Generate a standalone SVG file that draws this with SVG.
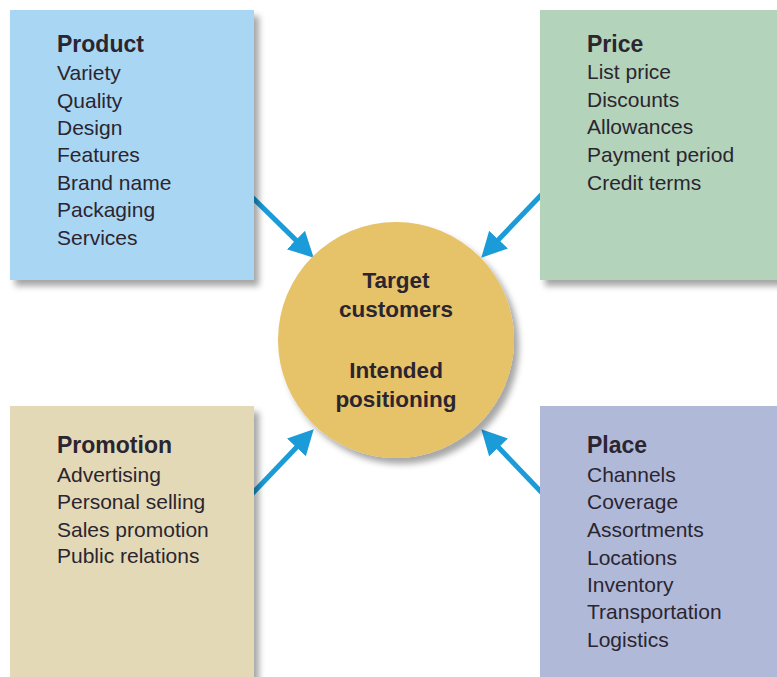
<svg xmlns="http://www.w3.org/2000/svg" width="777" height="677" viewBox="0 0 777 677">
<defs>
<filter id="sh" x="-10%" y="-10%" width="130%" height="130%">
<feDropShadow dx="5" dy="6" stdDeviation="3" flood-color="#000" flood-opacity="0.35"/>
</filter>
<marker id="ah" markerUnits="userSpaceOnUse" markerWidth="30" markerHeight="30" refX="4" refY="13" orient="auto">
<path d="M0,0 L25,13 L0,26 z" fill="#1b9bd7"/>
</marker>
<style>
.t{font-family:"Liberation Sans",Arial,sans-serif;fill:#2b2530;}
.h{font-size:23px;font-weight:bold;}
.i{font-size:21px;}
.c{font-size:22.5px;font-weight:bold;text-anchor:middle;}
.ar{stroke:#1b9bd7;stroke-width:5;fill:none;marker-end:url(#ah);}
</style>
</defs>
<rect width="777" height="677" fill="#fff"/>
<g id="connectors">
<line class="ar" x1="250" y1="195" x2="298.7" y2="242.9"/>
<line class="ar" x1="545" y1="191" x2="495.8" y2="242.5"/>
<line class="ar" x1="250" y1="496" x2="299.2" y2="444.5"/>
<line class="ar" x1="545" y1="496" x2="495.8" y2="444.5"/>
</g>
<g id="product">
<rect x="10" y="10" width="244" height="270" fill="#a9d6f3" filter="url(#sh)"/>
<text class="t h" x="57" y="52">Product</text>
<text class="t i" x="57" y="80">Variety</text>
<text class="t i" x="57" y="108">Quality</text>
<text class="t i" x="57" y="135">Design</text>
<text class="t i" x="57" y="162">Features</text>
<text class="t i" x="57" y="190">Brand name</text>
<text class="t i" x="57" y="217">Packaging</text>
<text class="t i" x="57" y="245">Services</text>
</g>
<g id="price">
<rect x="540" y="10" width="240" height="270" fill="#b3d3bb" filter="url(#sh)"/>
<text class="t h" x="587" y="52">Price</text>
<text class="t i" x="587" y="79">List price</text>
<text class="t i" x="587" y="107">Discounts</text>
<text class="t i" x="587" y="134">Allowances</text>
<text class="t i" x="587" y="162">Payment period</text>
<text class="t i" x="587" y="190">Credit terms</text>
</g>
<g id="promotion">
<rect x="10" y="406" width="244" height="275" fill="#e3d9b6" filter="url(#sh)"/>
<text class="t h" x="57" y="453">Promotion</text>
<text class="t i" x="57" y="482">Advertising</text>
<text class="t i" x="57" y="509">Personal selling</text>
<text class="t i" x="57" y="537">Sales promotion</text>
<text class="t i" x="57" y="563">Public relations</text>
</g>
<g id="place">
<rect x="540" y="406" width="240" height="275" fill="#b0b9d8" filter="url(#sh)"/>
<text class="t h" x="587" y="453">Place</text>
<text class="t i" x="587" y="482">Channels</text>
<text class="t i" x="587" y="509">Coverage</text>
<text class="t i" x="587" y="537">Assortments</text>
<text class="t i" x="587" y="565">Locations</text>
<text class="t i" x="587" y="592">Inventory</text>
<text class="t i" x="587" y="619">Transportation</text>
<text class="t i" x="587" y="647">Logistics</text>
</g>
<g id="center">
<circle cx="396" cy="340" r="118" fill="#e6c267" filter="url(#sh)"/>
<text class="t c" x="396" y="288">Target</text>
<text class="t c" x="396" y="317">customers</text>
<text class="t c" x="396" y="378">Intended</text>
<text class="t c" x="396" y="407">positioning</text>
</g>
</svg>
